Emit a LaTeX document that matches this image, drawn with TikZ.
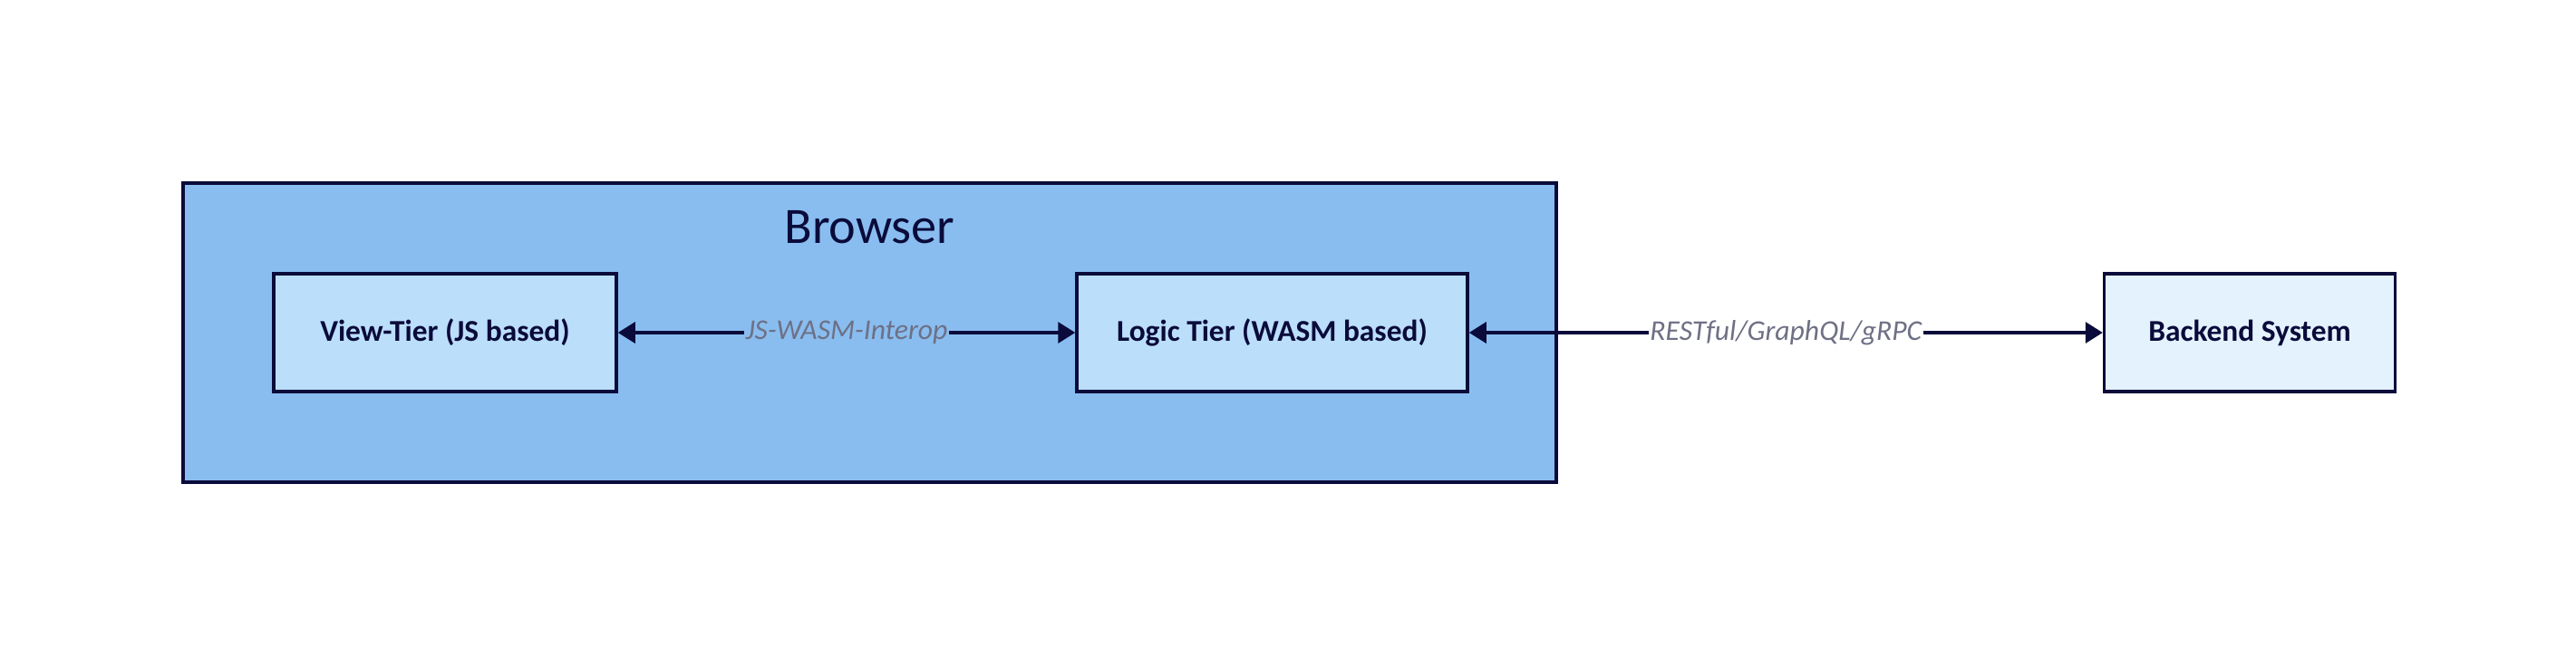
\documentclass[tikz,border=0pt]{standalone}
\usepackage{fontspec}
\setmainfont{Carlito}
\usetikzlibrary{positioning}
\usetikzlibrary{arrows.meta}
\definecolor{linenavy}{HTML}{0A0B3A}
\definecolor{browserblue}{HTML}{89BDF0}
\definecolor{tierblue}{HTML}{BBDEFB}
\definecolor{backendblue}{HTML}{E3F2FD}
\definecolor{labelgray}{HTML}{6E7085}
\tikzset{>={Triangle[length=0.38cm,width=0.46cm]},
    box/.style={draw=linenavy, line width=2pt, inner sep=0pt, minimum height=2.6cm,
        font=\fontsize{19}{22}\selectfont\bfseries, text=linenavy},
    tier/.style={box, fill=tierblue},
    backend/.style={box, fill=backendblue},
    link/.style={<->, draw=linenavy, line width=1.9pt},
    linklabel/.style={font=\fontsize{18}{21}\selectfont\itshape, text=labelgray, inner sep=1pt}}

\begin{document}
\begin{tikzpicture}
        \useasboundingbox (0,0) rectangle (56.84,-14.72);
        \node[draw=linenavy, line width=2pt, fill=browserblue, minimum width=30.3cm, minimum height=6.6cm] (browser) at (19.19,-7.34) {};
        \node[text=linenavy, font=\fontsize{32}{38}\selectfont] (browsertitle) at ([yshift=-1.0cm]browser.north) {Browser};
        \node[tier, minimum width=7.56cm] (view) at (9.82,-7.34) {View-Tier (JS based)};
        \node[tier, minimum width=8.62cm, right=10.09cm of view] (logic) {Logic Tier (WASM based)};
        \node[backend, minimum width=6.42cm, right=13.98cm of logic] (backend) {Backend System};
        \draw[link] (view) -- node[linklabel, fill=browserblue] {JS-WASM-Interop} (logic);
        \draw[link] (logic) -- node[linklabel, fill=white] {RESTful/GraphQL/gRPC} (backend);
    \end{tikzpicture}
\end{document}
